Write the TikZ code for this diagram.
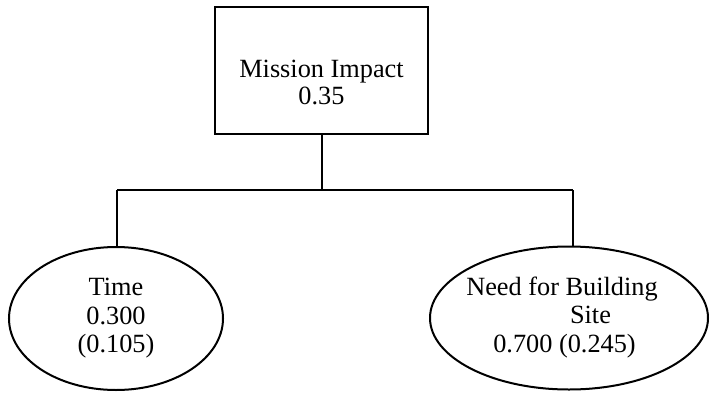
\documentclass[tikz,border=0pt]{standalone}
\usepackage{fontspec}
\setmainfont{Liberation Serif}
\usetikzlibrary{shapes.geometric}
\begin{document}
\begin{tikzpicture}[x=1pt,y=-1pt,
  shapeline/.style={draw=black, line width=2pt, inner sep=0pt},
  lbl/.style={anchor=base, inner sep=0pt, font=\fontsize{26.3}{30}\selectfont},
  conn/.style={draw=black, line width=2pt}]
\useasboundingbox (0,0) rectangle (710,394);
% shapes
\node[shapeline, rectangle, minimum width=213pt, minimum height=127pt] (mi) at (321.5,70.5) {};
\node[shapeline, ellipse, minimum width=214pt, minimum height=143pt] (time) at (116,318.5) {};
\node[shapeline, ellipse, minimum width=278pt, minimum height=143pt] (need) at (569,318) {};
% labels
\node[lbl] (mi1) at (321.5,77) {Mission Impact};
\node[lbl] (mi2) at (321.5,104) {0.35};
\node[lbl] (t1) at (116,295) {Time};
\node[lbl] (t2) at (116,324) {0.300};
\node[lbl] (t3) at (116,352) {(0.105)};
\node[lbl] (n1) at (562,295) {Need for Building};
\node[lbl] (n2) at (590.5,323) {Site};
\node[lbl] (n3) at (564.5,352) {0.700 (0.245)};
% connectors
\coordinate (jl) at (117,190);
\coordinate (jr) at (573,190);
\draw[conn] (mi.south) -- (mi.south |- jl);
\draw[conn] (jl) -- (jr);
\draw[conn] (jl) -- (jl |- time.north);
\draw[conn] (jr) -- (jr |- need.north);
\end{tikzpicture}
\end{document}
